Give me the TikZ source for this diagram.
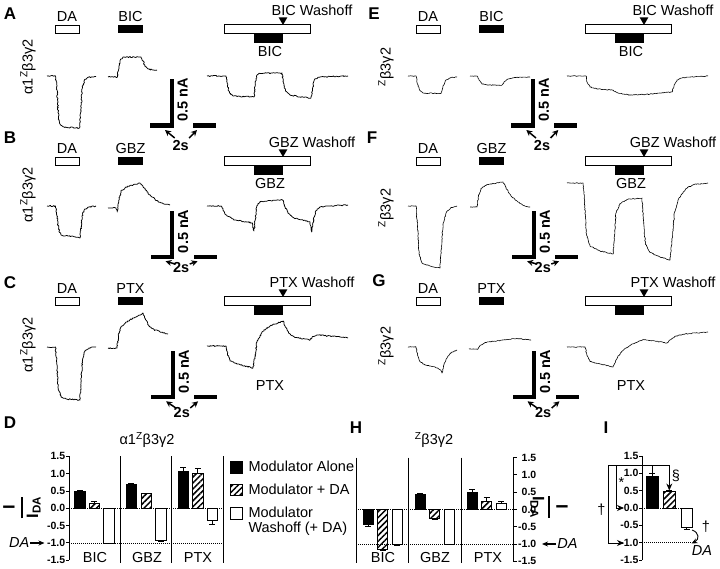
\documentclass[tikz,border=0pt]{standalone}
\usepackage{fontspec}
\setmainfont{Liberation Sans}
\usepackage{amsmath}
\usetikzlibrary{decorations.pathmorphing,patterns.meta,arrows.meta}

\newcommand\mystim[4]{%
  \begin{scope}[shift={(#1,#2)}]
    \node[txt] (#4-dat) at (67,17) {DA};
    \draw[stimw] (55,25.5) rectangle (79.3,33.7);
    \node[txt] (#4-drt) at (130.5,17) {#3};
    \fill (118.3,25) rectangle (142.7,33.3);
    \node[txt] (#4-wt) at (312,10) {#3 Washoff};
    \fill (278.7,17.5) -- (287.3,17.5) -- (283,25) -- cycle;
    \draw[stimw] (224,24.3) rectangle (310,33.3);
    \fill (254.3,33.3) rectangle (283.3,42.7);
  \end{scope}}

\newcommand\myscale[5]{%
  \fill (#1-2.2,#2-48.4) rectangle (#1+2.2,#2);
  \fill (#1-21.7,#2-4.4) rectangle (#1+2.2,#2);
  \fill (#1+21.3,#2-4.4) rectangle (#1+44.3,#2);
  \node[txt,rotate=90,font=\bfseries\fontsize{14.5}{16}\selectfont] (#5-na) at (#1+11,#2-27.7) {0.5 nA};
  \node[txt,font=\bfseries\fontsize{14.5}{16}\selectfont] (#5-s) at (#1+9,#4) {2s};
  \coordinate (#5-tl) at (#1-6.7,#2+2.3);
  \coordinate (#5-tr) at (#1+25.3,#2+2.3);
  \coordinate (#5-al) at (#1+3,#3);
  \coordinate (#5-ar) at (#1+17.5,#3);
  \draw[sbarr] (#5-al) -- (#5-tl);
  \draw[sbarr] (#5-ar) -- (#5-tr);}

\newcommand\mybar[5]{%
  \draw[errb] ({(#1+#2)/2},#3) -- ({(#1+#2)/2},#4);
  \draw[errb] ({(#1+#2)/2-3},#4) -- ({(#1+#2)/2+3},#4);
  \draw[#5] (#1,0) rectangle (#2,#3);}

\begin{document}
\begin{tikzpicture}[x=1pt,y=-1pt,font=\fontsize{14.5}{16}\selectfont,
  txt/.style={inner sep=0pt},
  ephys/.style={line width=0.75pt,line join=round,decorate,decoration={random steps,segment length=1.1pt,amplitude=0.6pt}},
  ephysr/.style={line width=0.6pt,line join=round,decorate,decoration={random steps,segment length=1.2pt,amplitude=0.4pt}},
  stimw/.style={draw=black,fill=white,line width=0.8pt},
  sbarr/.style={line width=1.5pt,-{Stealth[length=6pt,width=6pt]}},
  bblack/.style={draw=black,fill=black,line width=0.8pt},
  bhatch/.style={draw=black,line width=0.8pt,pattern={Lines[angle=45,distance=4.2pt,line width=1.5pt]}},
  bwhite/.style={draw=black,fill=white,line width=0.8pt},
  errb/.style={line width=0.8pt},
  axisl/.style={line width=0.9pt},
  dotl/.style={line width=0.7pt,dash pattern=on 0.8pt off 1.2pt},
  ticklbl/.style={inner sep=0pt,font=\bfseries\fontsize{10.5}{12}\selectfont},
  itl/.style={inner sep=0pt,font=\itshape\fontsize{14.5}{16}\selectfont},
  brkarr/.style={line width=0.9pt,-{Stealth[length=7pt,width=6pt]}},
  plet/.style={inner sep=0pt,font=\bfseries\fontsize{17}{19}\selectfont}]
\pgfmathsetseed{7}
\fill[white] (0,0) rectangle (720,569);
\useasboundingbox (0,0) rectangle (720,569);

% panel letters
\node[plet] (lA) at (10,14) {A};
\node[plet] (lB) at (10,138) {B};
\node[plet] (lC) at (10,283) {C};
\node[plet] (lD) at (10,423) {D};
\node[plet] (lE) at (374,14) {E};
\node[plet] (lF) at (372,138) {F};
\node[plet] (lG) at (379,281) {G};
\node[plet] (lH) at (356,428) {H};
\node[plet] (lI) at (606,428) {I};

% stimulus bars
\mystim{0}{0}{BIC}{sa}
\mystim{0}{132}{GBZ}{sb}
\mystim{0}{272}{PTX}{sc}
\mystim{361}{0}{BIC}{se}
\mystim{361}{132}{GBZ}{sf}
\mystim{361}{272}{PTX}{sg}
\node[txt] (ua) at (270,52) {BIC};
\node[txt] (ub) at (270,184) {GBZ};
\node[txt] (uc) at (270,386) {PTX};
\node[txt] (ue) at (631,52) {BIC};
\node[txt] (uf) at (631,184) {GBZ};
\node[txt] (ug) at (631,386) {PTX};

% row labels
\node[txt,rotate=90] (ya) at (28,67) {α1\textsuperscript{Z}β3γ2};
\node[txt,rotate=90] (yb) at (28,195) {α1\textsuperscript{Z}β3γ2};
\node[txt,rotate=90] (yc) at (28,345) {α1\textsuperscript{Z}β3γ2};
\node[txt,rotate=90] (ye) at (386,67) {\textsuperscript{Z}β3γ2};
\node[txt,rotate=90] (yf) at (386,208) {\textsuperscript{Z}β3γ2};
\node[txt,rotate=90] (yg) at (386,346) {\textsuperscript{Z}β3γ2};

% scale bars
\myscale{171.7}{127.7}{138}{146}{sca}
\myscale{172.2}{259}{264}{268}{scb}
\myscale{172.8}{399}{408}{413}{scc}
\myscale{533}{127.7}{138}{146}{sce}
\myscale{533.8}{259}{264}{268}{scf}
\myscale{534.2}{399}{408}{413}{scg}

% traces A
\draw[ephys] (47,76) -- (55.5,76) -- (57,90) -- (58.5,118) -- (60.5,125) -- (64,127) -- (79.5,128) -- (80.8,112) -- (82.3,88) -- (84.5,80) -- (88,77.3) -- (96,76.5);
\draw[ephys] (108,77) -- (117.5,77) -- (119,66) -- (121,59) -- (124,57) -- (141,57) -- (143,61) -- (145,66.5) -- (148,69) -- (153,70) -- (157,70);
\draw[ephys] (207,76) -- (226,76) -- (227.5,86) -- (229.5,93) -- (233,96) -- (254,97) -- (255.2,85) -- (256.5,76) -- (259,73.3) -- (282,73) -- (283.5,83) -- (285.5,91) -- (290,95) -- (300,97) -- (311,98) -- (312.5,89) -- (314.3,80) -- (318,77.3) -- (330,76.5) -- (348,76);
% traces B
\draw[ephys] (47,206) -- (55.5,206) -- (57,216) -- (58.5,229) -- (61,235) -- (64,236) -- (72,236) -- (80,238) -- (81,227) -- (82.5,214) -- (85,209) -- (89,207) -- (96,206);
\draw[ephys] (108,208) -- (116,208) -- (117.3,212) -- (118.8,201) -- (121,191) -- (126,187) -- (133,185) -- (140,183) -- (143,186) -- (147,192) -- (152,197) -- (158,201.5) -- (164,204) -- (170,205);
\draw[ephys] (207,206) -- (221,206) -- (223.5,211) -- (227,216) -- (235,220) -- (252.5,223) -- (254,231) -- (255.3,220) -- (256.8,206) -- (260,201.5) -- (282.5,200) -- (284.5,205) -- (288,213) -- (294,218) -- (310,222) -- (311.8,232) -- (313.3,221) -- (315.5,211) -- (320,207) -- (330,206) -- (348,205);
% traces C
\draw[ephys] (47,347) -- (55.5,347) -- (57,365) -- (58.5,390) -- (61,397) -- (66,399) -- (80,400) -- (81,383) -- (82.5,360) -- (85,351) -- (89,348) -- (96,347);
\draw[ephys] (108,348) -- (117,348) -- (118.5,336) -- (120.5,328) -- (126,322) -- (134,318) -- (143,313) -- (145.5,319) -- (149,326) -- (155,330) -- (168,334);
\draw[ephys] (207,346) -- (226,346) -- (227.5,354) -- (230,361) -- (237,364) -- (253,368) -- (254.8,357) -- (257,342) -- (262,332) -- (270,326) -- (283,321) -- (285,326) -- (288.5,333) -- (295,337.5) -- (310,340) -- (312.5,336.5) -- (318,335) -- (348,338);
% traces E
\draw[ephysr] (408,76) -- (416,76) -- (417.5,84) -- (419.5,90) -- (423,93) -- (441,93.5) -- (443,86) -- (446,80) -- (451,77.5) -- (457,77);
\draw[ephysr] (470,76) -- (477,76) -- (479,80) -- (482,84) -- (488,85) -- (502,85) -- (504.5,81.5) -- (508,79) -- (516,77.5) -- (530,77);
\draw[ephysr] (567,76) -- (586,76) -- (587.5,83) -- (590,87) -- (597,89) -- (612,90) -- (618,93) -- (630,95) -- (645,94.5) -- (660,93) -- (672,92) -- (674,86) -- (677,80) -- (683,77.5) -- (708,76);
% traces F
\draw[ephysr] (408,206) -- (416,206) -- (417.5,226) -- (419,254) -- (422,263) -- (430,266) -- (440,268) -- (441.5,246) -- (443,224) -- (446.5,212) -- (451,207.5) -- (457,206);
\draw[ephysr] (470,207) -- (477,207) -- (478.5,196) -- (481,188.5) -- (487,184.5) -- (503,182) -- (506,188) -- (511,196) -- (518,202) -- (524,205.5) -- (530,207);
\draw[ephysr] (567,183) -- (583,183) -- (584.5,200) -- (586.5,234) -- (590,246) -- (600,251) -- (613,254) -- (614.5,236) -- (616,213) -- (620,203.5) -- (627,199.5) -- (642,198) -- (643.5,220) -- (645.3,243) -- (650,252.5) -- (660,257) -- (670,260) -- (672,240) -- (674.5,212) -- (679,198) -- (686,188.5) -- (694,184.5) -- (708,183);
% traces G
\draw[ephysr] (408,347) -- (416,347) -- (417.5,355) -- (420,361.5) -- (425,365) -- (435,367) -- (441,370.5) -- (442,373) -- (443.5,366) -- (447,358) -- (451,352.5) -- (457,350);
\draw[ephysr] (469,349) -- (478,349) -- (480,345.5) -- (485,342.5) -- (500,340.5) -- (517,338.5) -- (531,340);
\draw[ephysr] (567,347) -- (585,347) -- (587,355.5) -- (590,361.5) -- (600,364) -- (613,367) -- (614.5,363.5) -- (618,356) -- (624,349.5) -- (632,344) -- (643,339.5) -- (655,341) -- (667,343) -- (670,340) -- (676,336) -- (685,334) -- (708,332);

% ---------- panel D ----------
\node[txt] (dtitle) at (147,440) {α1\textsuperscript{Z}β3γ2};
\node[txt,rotate=90,font=\bfseries\fontsize{16.5}{18}\selectfont] (dyl) at (22,507.5) {$\genfrac{}{}{1.3pt}{0}{\text{I}}{\text{I}_{\text{DA}}}$};
\node[itl] (dda) at (19.2,543) {DA};
\coordinate (ddatip) at (44.5,543);
\draw[line width=1.1pt,-{Stealth[length=6pt,width=5pt]}] (dda.east) ++(1,0) -- (ddatip);
\node[txt] (dc1) at (95,558) {BIC};
\node[txt] (dc2) at (147,558) {GBZ};
\node[txt] (dc3) at (198,558) {PTX};
\begin{scope}[shift={(0,508.3)},y=34.6pt]
  \draw[dotl] (69,0) -- (223,0);
  \draw[dotl] (69,-1) -- (223,-1);
  \draw[axisl] (69,1.5) -- (69,-1.5);
  \foreach \v/\t [count=\i] in {1.5/1.5,1/1.0,0.5/0.5,0/0.0,-0.5/-0.5,-1/-1.0,-1.5/-1.5} {
    \draw[axisl] (65.8,\v) -- (69,\v);
    \node[ticklbl,anchor=east] (dt\i) at (65.3,\v) {\t};}
  \draw[axisl] (120,1.5) -- (120,-1.58);
  \draw[axisl] (171,1.5) -- (171,-1.58);
  \draw[axisl] (223,1.5) -- (223,-1.58);
  \mybar{74.5}{85}{0.50}{0.52}{bblack}
  \mybar{89}{99.5}{0.15}{0.21}{bhatch}
  \mybar{103.5}{114}{-1.0}{-1.02}{bwhite}
  \mybar{126}{136.5}{0.70}{0.72}{bblack}
  \mybar{141}{151}{0.42}{0.44}{bhatch}
  \mybar{155.5}{166}{-0.93}{-0.95}{bwhite}
  \mybar{178}{188}{1.08}{1.17}{bblack}
  \mybar{192.5}{203}{1.01}{1.14}{bhatch}
  \mybar{207}{217.5}{-0.35}{-0.46}{bwhite}
\end{scope}

% legend
\draw[bblack] (230,461.7) rectangle (242.3,473.3);
\node[txt,anchor=west] (leg1) at (248.3,466.7) {Modulator Alone};
\draw[bhatch] (230,484) rectangle (242.3,495.7);
\node[txt,anchor=west] (leg2) at (248.3,489.3) {Modulator + DA};
\draw[bwhite] (230,507.7) rectangle (242.3,519);
\node[txt,anchor=west] (leg3a) at (248.3,512.7) {Modulator};
\node[txt,anchor=west] (leg3b) at (248.3,528.3) {Washoff (+ DA)};

% ---------- panel H ----------
\node[txt] (htitle) at (434,440) {\textsuperscript{Z}β3γ2};
\node[txt,rotate=-90,font=\bfseries\fontsize{16.5}{18}\selectfont] (hyl) at (549,507) {$\genfrac{}{}{1.3pt}{0}{\text{I}}{\text{I}_{\text{DA}}}$};
\node[itl] (hda) at (567.5,544) {DA};
\coordinate (hdatip) at (542,544);
\draw[line width=1.1pt,-{Stealth[length=6pt,width=5pt]}] (hda.west) ++(-1,0) -- (hdatip);
\node[txt] (hc1) at (383,558) {BIC};
\node[txt] (hc2) at (435,558) {GBZ};
\node[txt] (hc3) at (488,558) {PTX};
\begin{scope}[shift={(0,509.5)},y=34.6pt]
  \draw[dotl] (356,0) -- (513.3,0);
  \draw[dotl] (356,-1) -- (513.3,-1);
  \draw[axisl] (513.3,1.5) -- (513.3,-1.5);
  \foreach \v/\t [count=\i] in {1.5/1.5,1/1.0,0.5/0.5,0/0.0,-0.5/-0.5,-1/-1.0,-1.5/-1.5} {
    \draw[axisl] (513.3,\v) -- (516.8,\v);
    \node[ticklbl,anchor=east] (ht\i) at (536.5,\v) {\t};}
  \draw[axisl] (356,1.5) -- (356,-1.55);
  \draw[axisl] (408.3,1.5) -- (408.3,-1.55);
  \draw[axisl] (461,1.5) -- (461,-1.55);
  \mybar{363}{373}{-0.43}{-0.48}{bblack}
  \mybar{377.5}{387.5}{-1.15}{-1.18}{bhatch}
  \mybar{392}{402}{-1.02}{-1.04}{bwhite}
  \mybar{415}{425}{0.43}{0.46}{bblack}
  \mybar{429.5}{439.5}{-0.27}{-0.30}{bhatch}
  \mybar{444}{454}{-1.0}{-1.02}{bwhite}
  \mybar{467}{477}{0.48}{0.58}{bblack}
  \mybar{481.5}{491.5}{0.24}{0.34}{bhatch}
  \mybar{496}{506}{0.17}{0.23}{bwhite}
\end{scope}

% ---------- panel I ----------
\begin{scope}[shift={(0,508)},y=34.7pt]
  \draw[dotl] (642,0) -- (681,0);
  \draw[dotl] (642,-1) -- (692,-1);
  \draw[axisl] (642,1.5) -- (642,-1.5);
  \foreach \v/\t [count=\i] in {1.5/1.5,1/1.0,0.5/0.5,0/0.0,-0.5/-0.5,-1/-1.0,-1.5/-1.5} {
    \draw[axisl] (639,\v) -- (642,\v);
    \node[ticklbl,anchor=east] (it\i) at (638.6,\v) {\t};}
  \mybar{646}{658}{0.90}{1.01}{bblack}
  \mybar{663}{675}{0.47}{0.50}{bhatch}
  \mybar{681}{692}{-0.57}{-0.61}{bwhite}
\end{scope}
\coordinate (ib0) at (652,473);
\coordinate (ib1) at (652,465);
\coordinate (ibL) at (608.3,465);
\coordinate (ibLb) at (608.3,543);
\coordinate (ibLt) at (624,543);
\coordinate (ibM) at (616.7,465);
\coordinate (ibMb) at (616.7,508);
\coordinate (ibMt) at (624,508);
\coordinate (ibR) at (669.3,465);
\coordinate (ibRt) at (669.3,490.5);
\draw[brkarr] (ib0) -- (ib1) -- (ibL) -- (ibLb) -- (ibLt);
\draw[brkarr] (ibM) -- (ibMb) -- (ibMt);
\draw[brkarr] (ib1) -- (ibR) -- (ibRt);
\coordinate (icv0) at (692,530);
\coordinate (icv1) at (691.5,543.5);
\draw[line width=0.9pt,-{Stealth[length=6pt,width=5pt]}] (icv0) .. controls (699.5,532.5) and (699.5,539.5) .. (icv1);
\node[txt] (istar) at (621.5,483) {*};
\node[txt] (idag1) at (601.5,510) {†};
\node[txt] (isec) at (676,475.5) {§};
\node[txt] (idag2) at (706,527) {†};
\node[itl] (ida) at (702,551) {DA};
\end{tikzpicture}
\end{document}
